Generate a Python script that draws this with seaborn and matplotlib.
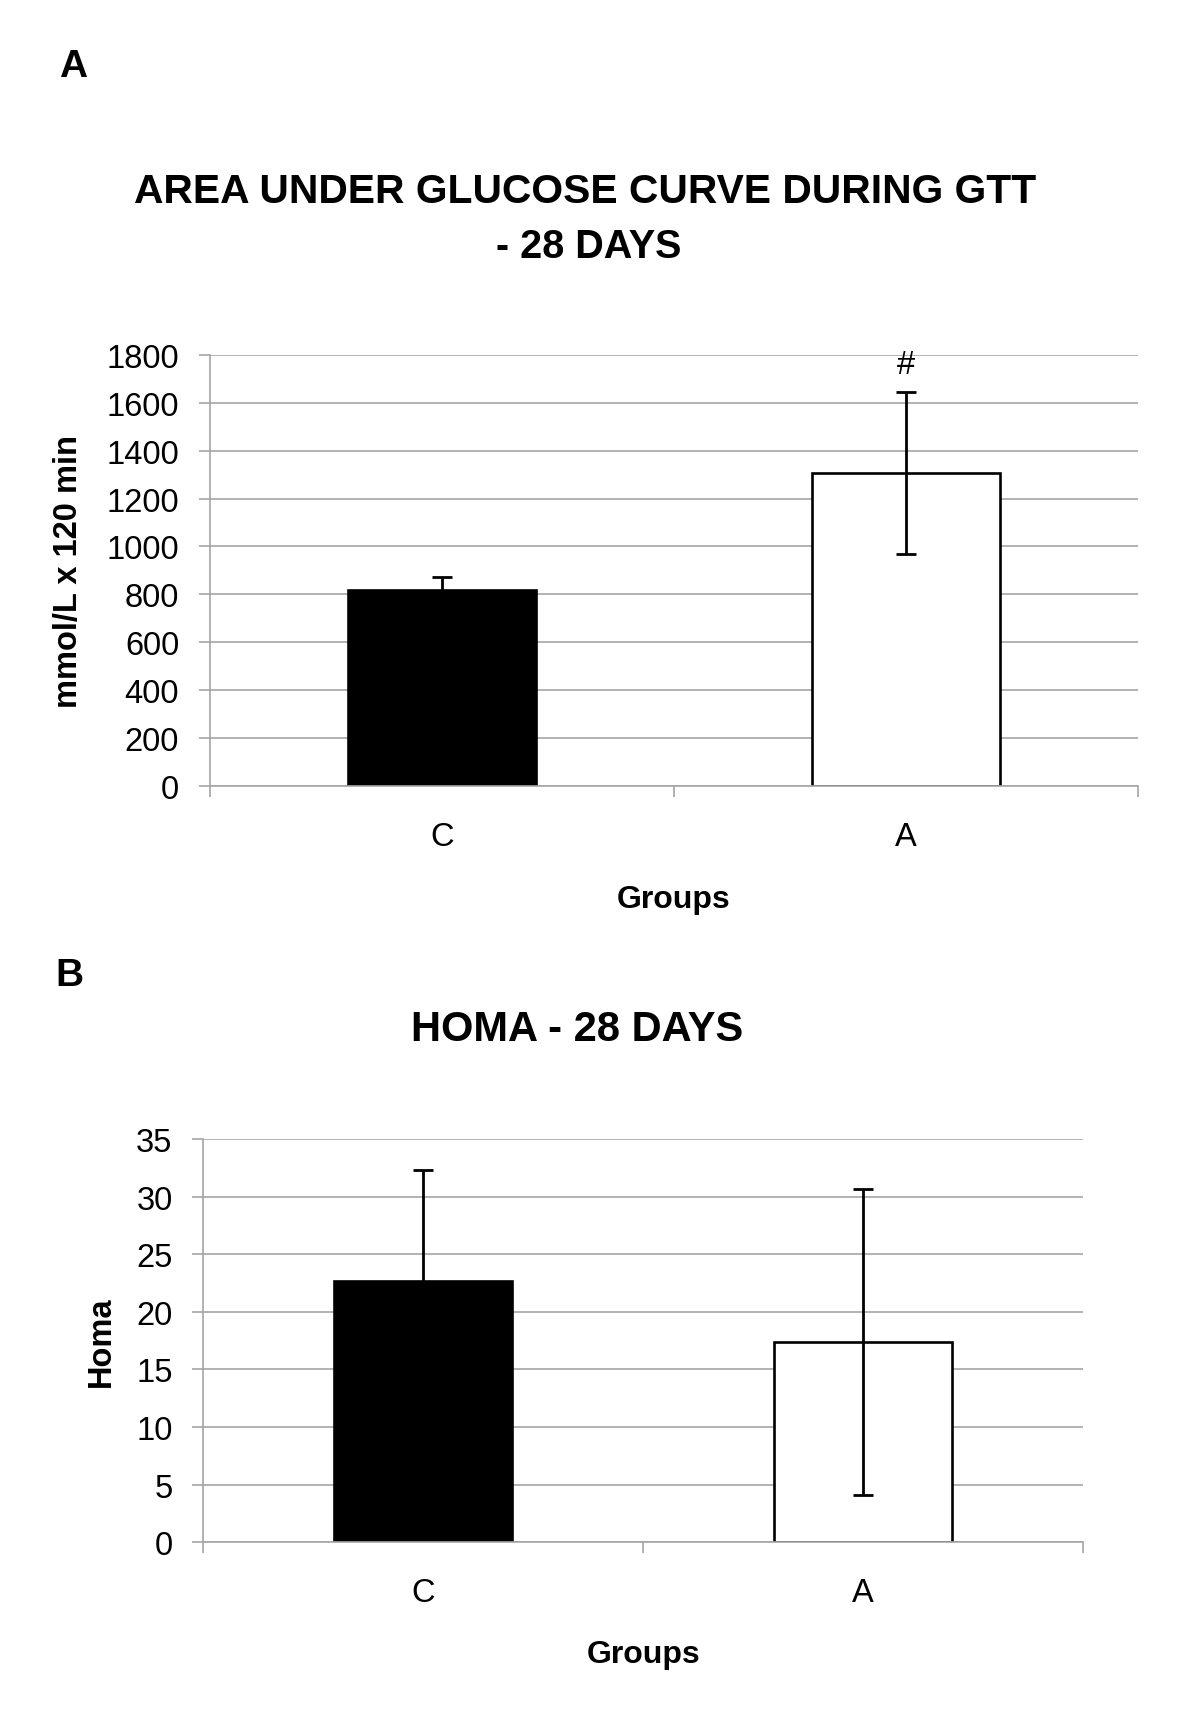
import matplotlib
matplotlib.use('Agg')
import matplotlib.pyplot as plt
import seaborn as sns
import pandas as pd

# ---- data ----
groups = ['C', 'A']
auc_means = [818, 1308]
auc_sem = [53, 338]
homa_means = [22.7, 17.4]
homa_sem = [9.6, 13.3]
bar_colors = ['black', 'white']
auc_ticks = list(range(0, 1801, 200))
homa_ticks = list(range(0, 36, 5))

sns.set_theme(style='white')
plt.rcParams['font.family'] = ['Liberation Sans', 'DejaVu Sans']
plt.rcParams['text.color'] = 'black'
plt.rcParams['axes.labelcolor'] = 'black'
plt.rcParams['xtick.color'] = 'black'
plt.rcParams['ytick.color'] = 'black'

fig = plt.figure(figsize=(12, 17.24), dpi=100)
axA = fig.add_axes([0.17475, 0.54368, 0.7736, 0.24983])
axB = fig.add_axes([0.1693, 0.10482, 0.7335, 0.23393])

GRID = '#a6a6a6'
FS = 23.5


def draw(ax, means, sems, ticks, ylabel, ylabel_x, xlabel_y, tick_pad):
    df = pd.DataFrame({'Group': groups, 'Value': means})
    sns.barplot(data=df, x='Group', y='Value', hue='Group', palette=bar_colors,
                saturation=1, edgecolor='black', linewidth=1.9, width=0.405,
                errorbar=None, legend=False, ax=ax, zorder=2)
    ax.errorbar(x=list(range(len(groups))), y=means, yerr=sems, fmt='none',
                ecolor='black', elinewidth=2.0, capsize=7.5, capthick=2.0, zorder=3)
    ax.set_xlim(-0.5, len(groups) - 0.5)
    ax.set_ylim(0, ticks[-1])
    ax.set_yticks(ticks)
    ax.yaxis.grid(True, color=GRID, linewidth=1.2)
    ax.xaxis.grid(False)
    ax.set_axisbelow(True)
    for s in ['top', 'right']:
        ax.spines[s].set_visible(False)
    for s in ['left', 'bottom']:
        ax.spines[s].set_color(GRID)
        ax.spines[s].set_linewidth(1.2)
    ax.tick_params(axis='y', which='major', left=True, length=8, width=1.2,
                   color=GRID, pad=14, labelsize=FS, labelcolor='black')
    ax.set_xticks([-0.5, 0.5, 1.5], minor=True)
    ax.tick_params(axis='x', which='minor', bottom=True, length=8, width=1.2, color=GRID)
    ax.tick_params(axis='x', which='major', bottom=False, length=0, pad=tick_pad,
                   labelsize=FS, labelcolor='black')
    ax.set_ylabel(ylabel, fontsize=FS, fontweight='bold', va='center', color='black')
    ax.yaxis.set_label_coords(ylabel_x, 0.5)
    ax.set_xlabel('Groups', fontsize=23, fontweight='bold', va='center', color='black')
    ax.xaxis.set_label_coords(0.5, xlabel_y)


draw(axA, auc_means, auc_sem, auc_ticks, 'mmol/L x 120 min', -0.1526, -0.2626, 25.5)
draw(axB, homa_means, homa_sem, homa_ticks, 'Homa', -0.1161, -0.2775, 25)

axA.text(1, 1762, '#', ha='center', va='center', fontsize=FS, color='black')

fig.text(585 / 1200, 1 - 203 / 1724, 'AREA UNDER GLUCOSE CURVE DURING GTT',
         ha='center', va='baseline', fontsize=29.3, fontweight='bold', color='black')
fig.text(589 / 1200, 1 - 258 / 1724, '- 28 DAYS',
         ha='center', va='baseline', fontsize=28.5, fontweight='bold', color='black')
fig.text(577.5 / 1200, 1 - 1041 / 1724, 'HOMA - 28 DAYS',
         ha='center', va='baseline', fontsize=30, fontweight='bold', color='black')
fig.text(73 / 1200, 1 - 77 / 1724, 'A', ha='center', va='baseline',
         fontsize=28, fontweight='bold', color='black')
fig.text(69 / 1200, 1 - 986 / 1724, 'B', ha='center', va='baseline',
         fontsize=28, fontweight='bold', color='black')

fig.savefig('out.png', dpi=100, facecolor='white')
